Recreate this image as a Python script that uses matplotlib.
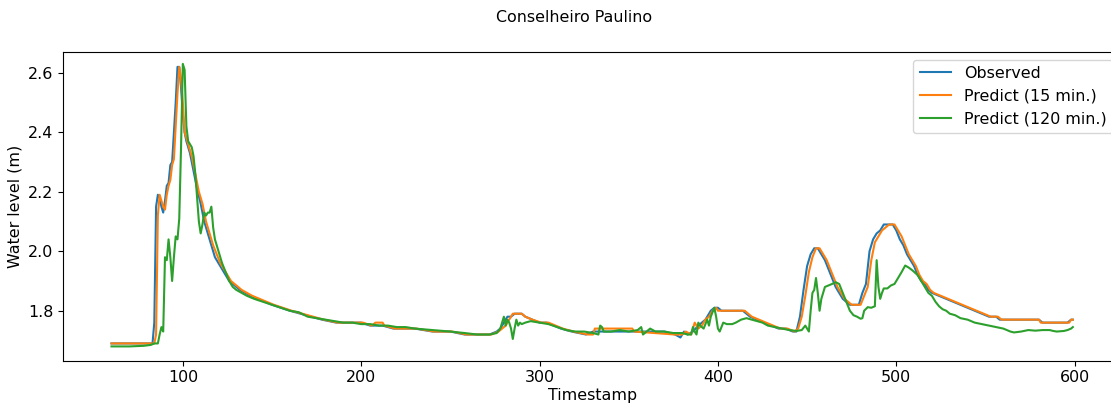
import matplotlib
matplotlib.use("Agg")
import matplotlib.pyplot as plt

plt.rcParams["font.size"] = 11.4

# Observed water level (m) at Conselheiro Paulino
obs_t = [60, 83, 84, 85, 86, 87, 88, 89, 90, 91, 92, 93, 94, 95, 96, 97, 98, 99,
         100, 101, 102, 103, 104, 105, 106, 107, 108, 110, 112, 114, 116, 118, 120,
         122, 124, 126, 128, 130, 132, 135, 138, 142, 146, 150, 155, 160, 166, 172,
         178, 186, 200, 205, 212, 218, 230, 240, 250, 258, 272, 276, 278, 280, 282,
         284, 286, 290, 292, 296, 300, 304, 308, 312, 318, 326, 330, 370, 376, 379,
         381, 383, 386, 389, 391, 393, 396, 398, 400, 402, 414, 416, 418, 422, 426,
         430, 434, 438, 442, 444, 446, 448, 450, 452, 454, 456, 458, 460, 462, 464,
         466, 468, 470, 472, 474, 479, 481, 483, 485, 487, 489, 491, 493, 498, 500,
         502, 504, 506, 508, 510, 512, 514, 516, 518, 520, 524, 528, 532, 536, 540,
         544, 548, 552, 556, 558, 580, 582, 596, 598, 599]
obs_v = [1.69, 1.69, 1.76, 2.15, 2.19, 2.18, 2.15, 2.13, 2.17, 2.22, 2.23, 2.29, 2.30,
         2.40, 2.50, 2.62, 2.62, 2.55, 2.46, 2.40, 2.37, 2.35, 2.33, 2.30, 2.27, 2.24,
         2.21, 2.16, 2.10, 2.06, 2.02, 1.98, 1.96, 1.94, 1.92, 1.90, 1.89, 1.88, 1.87,
         1.86, 1.85, 1.84, 1.83, 1.82, 1.81, 1.80, 1.79, 1.78, 1.77, 1.76, 1.76, 1.75,
         1.75, 1.74, 1.74, 1.73, 1.73, 1.72, 1.72, 1.73, 1.74, 1.76, 1.78, 1.78, 1.79,
         1.79, 1.78, 1.77, 1.76, 1.76, 1.75, 1.74, 1.73, 1.72, 1.73, 1.73, 1.72, 1.71,
         1.73, 1.72, 1.73, 1.75, 1.76, 1.77, 1.80, 1.81, 1.81, 1.80, 1.80, 1.79, 1.78,
         1.77, 1.76, 1.75, 1.74, 1.74, 1.73, 1.73, 1.78, 1.87, 1.95, 1.99, 2.01, 2.01,
         1.99, 1.97, 1.94, 1.91, 1.88, 1.86, 1.84, 1.83, 1.82, 1.82, 1.86, 1.89, 2.00,
         2.04, 2.06, 2.07, 2.09, 2.09, 2.07, 2.04, 2.02, 1.99, 1.97, 1.95, 1.92, 1.90,
         1.89, 1.87, 1.86, 1.85, 1.84, 1.83, 1.82, 1.81, 1.80, 1.79, 1.78, 1.78, 1.77,
         1.77, 1.76, 1.76, 1.77, 1.77]

# 15-minute-ahead prediction
p15_t = [60, 84, 85, 86, 87, 88, 89, 90, 91, 92, 93, 94, 95, 96, 97, 98, 99, 100,
         101, 102, 103, 104, 105, 106, 107, 108, 109, 111, 113, 115, 117, 119, 121,
         123, 125, 127, 129, 131, 133, 136, 139, 143, 147, 151, 156, 161, 167, 173,
         179, 187, 201, 206, 208, 212, 213, 219, 231, 241, 251, 259, 273, 277, 279,
         281, 283, 285, 290, 292, 296, 301, 305, 309, 313, 319, 327, 330, 331, 352,
         353, 376, 380, 382, 385, 387, 389, 391, 393, 395, 397, 399, 400, 415, 417,
         419, 423, 427, 431, 435, 439, 443, 445, 447, 449, 451, 453, 455, 457, 459,
         461, 463, 465, 467, 469, 471, 473, 475, 480, 482, 484, 486, 488, 490, 492,
         494, 496, 499, 501, 503, 505, 507, 509, 511, 513, 515, 517, 519, 521, 525,
         529, 533, 537, 541, 545, 549, 553, 557, 559, 580, 581, 597, 598, 599]
p15_v = [1.69, 1.69, 1.72, 2.12, 2.19, 2.17, 2.15, 2.14, 2.19, 2.22, 2.24, 2.29, 2.31,
         2.42, 2.53, 2.62, 2.58, 2.50, 2.40, 2.38, 2.36, 2.34, 2.32, 2.29, 2.26, 2.23,
         2.20, 2.16, 2.10, 2.06, 2.02, 1.99, 1.96, 1.94, 1.92, 1.90, 1.89, 1.88, 1.87,
         1.86, 1.85, 1.84, 1.83, 1.82, 1.81, 1.80, 1.79, 1.78, 1.77, 1.76, 1.76, 1.75,
         1.76, 1.76, 1.75, 1.74, 1.74, 1.73, 1.73, 1.72, 1.72, 1.73, 1.74, 1.75, 1.77,
         1.79, 1.79, 1.78, 1.77, 1.76, 1.76, 1.75, 1.74, 1.73, 1.72, 1.72, 1.74, 1.74,
         1.73, 1.72, 1.72, 1.73, 1.72, 1.76, 1.74, 1.75, 1.77, 1.78, 1.80, 1.81, 1.80,
         1.80, 1.79, 1.78, 1.77, 1.76, 1.75, 1.74, 1.74, 1.73, 1.74, 1.78, 1.85, 1.93,
         1.98, 2.01, 2.01, 1.99, 1.97, 1.94, 1.91, 1.88, 1.86, 1.84, 1.83, 1.82, 1.82,
         1.85, 1.88, 1.97, 2.03, 2.05, 2.07, 2.08, 2.09, 2.09, 2.07, 2.05, 2.02, 1.99,
         1.97, 1.95, 1.92, 1.90, 1.89, 1.87, 1.86, 1.85, 1.84, 1.83, 1.82, 1.81, 1.80,
         1.79, 1.78, 1.78, 1.77, 1.77, 1.76, 1.76, 1.77, 1.77]

# 120-minute-ahead prediction
p120_t = [60, 70, 78, 82, 84, 86, 87, 88, 89, 90, 91, 92, 93, 94, 95, 96, 97, 98,
          99, 100, 101, 102, 103, 104, 105, 106, 107, 108, 109, 110, 111, 112, 113,
          114, 115, 116, 117, 118, 120, 122, 124, 126, 128, 130, 133, 136, 140, 145,
          150, 155, 160, 165, 170, 175, 180, 185, 190, 195, 200, 205, 210, 215, 220,
          225, 230, 240, 250, 258, 265, 272, 276, 278, 280, 281, 282, 283, 284, 285,
          286, 287, 288, 289, 290, 292, 295, 300, 305, 310, 315, 320, 325, 330, 333,
          334, 335, 336, 340, 345, 350, 355, 357, 358, 360, 362, 365, 370, 375, 380,
          383, 385, 386, 387, 388, 389, 390, 392, 394, 395, 396, 398, 399, 400, 401,
          403, 405, 408, 410, 413, 416, 419, 422, 425, 428, 432, 436, 440, 444, 447,
          449, 450, 451, 452, 453, 454, 455, 456, 457, 458, 460, 462, 464, 466, 468,
          470, 472, 474, 476, 478, 480, 481, 482, 484, 486, 488, 489, 490, 491, 492,
          493, 495, 497, 499, 501, 503, 505, 507, 509, 512, 514, 516, 518, 520, 522,
          524, 526, 528, 530, 533, 536, 540, 544, 548, 552, 556, 560, 564, 566, 570,
          574, 578, 582, 586, 588, 590, 594, 596, 598, 599]
p120_v = [1.680, 1.680, 1.682, 1.685, 1.690, 1.690, 1.720, 1.745, 1.730, 1.980, 1.970,
          2.040, 1.980, 1.900, 1.980, 2.050, 2.040, 2.110, 2.350, 2.630, 2.610, 2.420,
          2.370, 2.360, 2.350, 2.320, 2.260, 2.180, 2.100, 2.060, 2.090, 2.130, 2.120,
          2.130, 2.130, 2.150, 2.080, 2.040, 2.000, 1.960, 1.930, 1.900, 1.880, 1.870,
          1.860, 1.850, 1.840, 1.830, 1.820, 1.810, 1.800, 1.795, 1.780, 1.775, 1.770,
          1.765, 1.760, 1.760, 1.755, 1.755, 1.750, 1.750, 1.745, 1.745, 1.740, 1.735,
          1.730, 1.725, 1.720, 1.720, 1.725, 1.740, 1.780, 1.750, 1.770, 1.760, 1.740,
          1.705, 1.740, 1.770, 1.750, 1.760, 1.755, 1.760, 1.765, 1.760, 1.755, 1.745,
          1.735, 1.730, 1.730, 1.725, 1.720, 1.750, 1.745, 1.730, 1.730, 1.735, 1.730,
          1.735, 1.745, 1.720, 1.730, 1.740, 1.730, 1.730, 1.725, 1.725, 1.720, 1.720,
          1.745, 1.730, 1.720, 1.760, 1.750, 1.740, 1.770, 1.750, 1.780, 1.810, 1.780,
          1.740, 1.730, 1.760, 1.755, 1.755, 1.760, 1.770, 1.775, 1.770, 1.765, 1.760,
          1.750, 1.745, 1.740, 1.735, 1.732, 1.735, 1.750, 1.740, 1.730, 1.800, 1.860,
          1.870, 1.910, 1.860, 1.800, 1.840, 1.880, 1.885, 1.890, 1.896, 1.890, 1.860,
          1.830, 1.800, 1.785, 1.780, 1.773, 1.775, 1.800, 1.812, 1.810, 1.815, 1.970,
          1.880, 1.840, 1.860, 1.875, 1.875, 1.885, 1.890, 1.910, 1.930, 1.952, 1.945,
          1.936, 1.920, 1.900, 1.880, 1.860, 1.850, 1.830, 1.815, 1.805, 1.800, 1.790,
          1.785, 1.775, 1.770, 1.760, 1.755, 1.750, 1.745, 1.740, 1.730, 1.727, 1.730,
          1.735, 1.733, 1.735, 1.735, 1.732, 1.730, 1.732, 1.735, 1.740, 1.745]

fig = plt.figure(figsize=(11.11, 4.05), dpi=100)
# axes run slightly past the right edge of the canvas
ax = fig.add_axes([0.057, 0.1094, 0.952, 0.7629])

ax.plot(obs_t, obs_v, label="Observed")
ax.plot(p15_t, p15_v, label="Predict (15 min.)")
ax.plot(p120_t, p120_v, label="Predict (120 min.)")

ax.set_xlim(33, 626)
ax.set_ylim(1.632, 2.671)
ax.set_xlabel("Timestamp", labelpad=2)
ax.set_ylabel("Water level (m)")
ax.legend(loc="upper right")

fig.suptitle("Conselheiro Paulino", x=0.517, y=0.975, fontsize=11.4)

fig.savefig("out.png", dpi=100)
plt.close("all")
